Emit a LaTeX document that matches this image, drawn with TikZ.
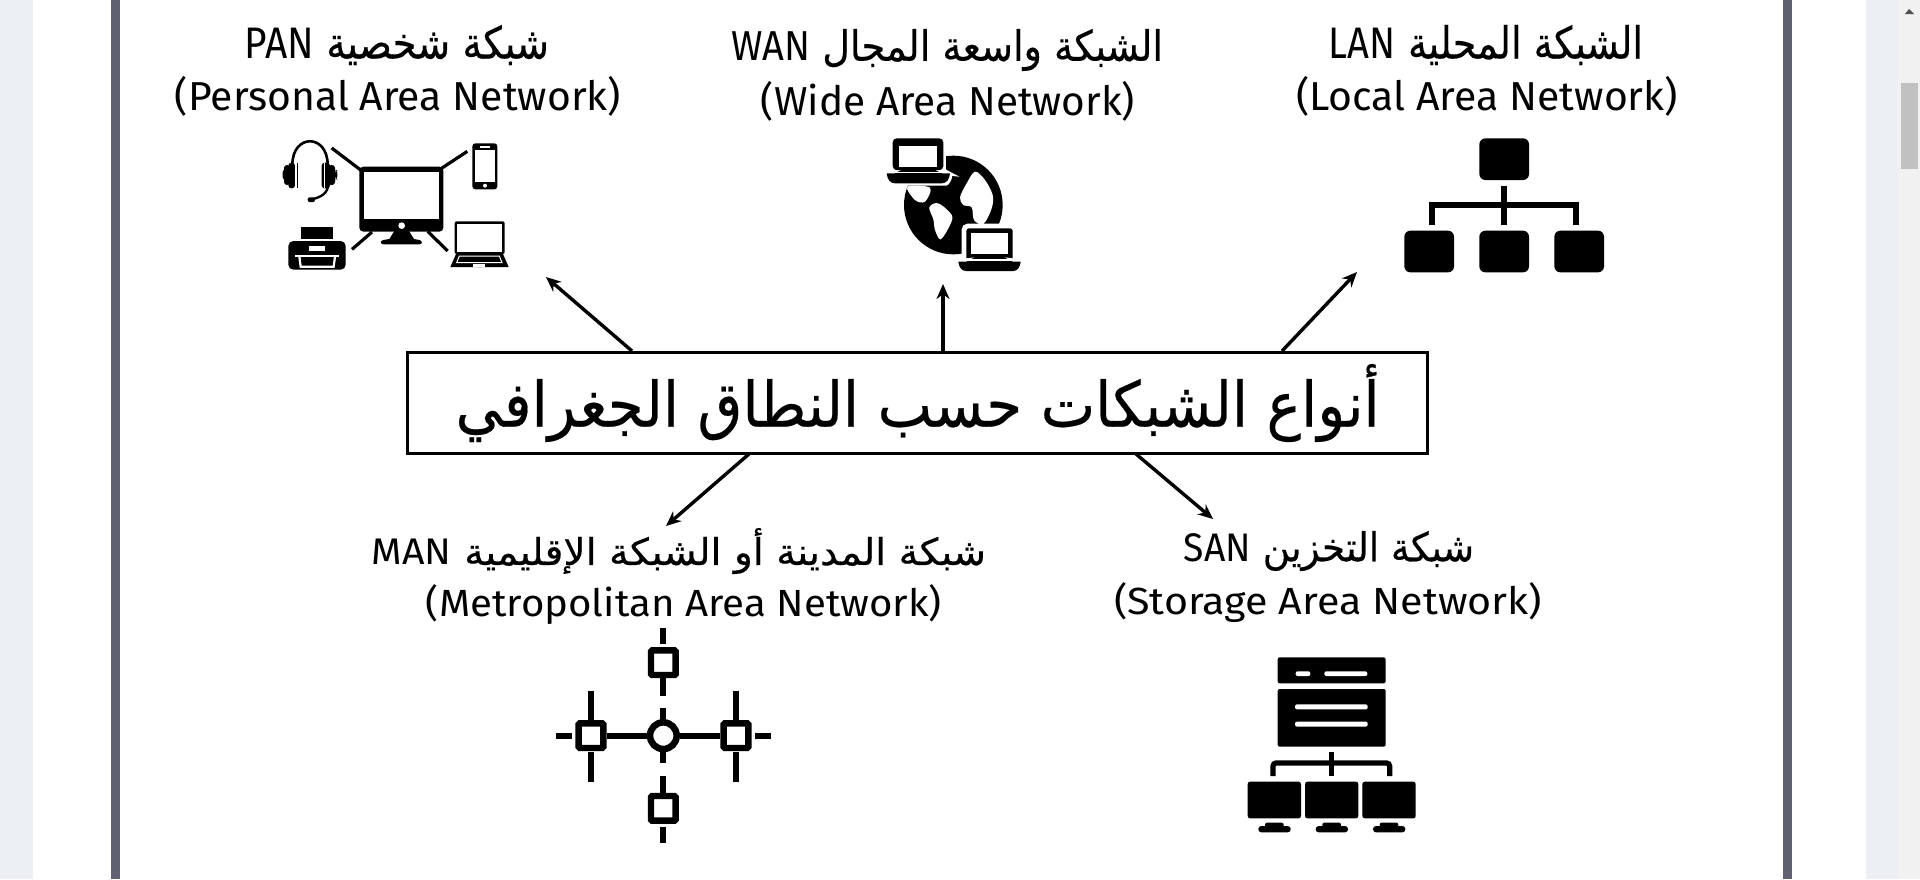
\documentclass[tikz,border=0pt]{standalone}
\usepackage{graphicx}
\usepackage{fontspec}
\usetikzlibrary{arrows.meta}
\setmainfont{Fira Sans}
\newfontfamily\arabicfont[Script=Arabic,FakeBold=0.35]{DejaVu Sans}
\TeXXeTstate=1
\newcommand{\lbl}[3]{\resizebox*{#1pt}{#2pt}{#3}}
\newcommand{\artext}[2]{\arabicfont\beginR #1\ifx&#2&\else\ \beginL{\rmfamily #2}\endL\fi\endR}
\tikzset{
  conn/.style={line width=1.7pt,-{Stealth[length=7.5pt,width=6.5pt]}},
  txt/.style={inner sep=0pt,outer sep=0pt,text=black},
  zoomed/.style={x=0.16667pt,y=-0.16667pt},
  thick3/.style={line width=3pt,draw=black},
  hole/.style={fill=white,draw=none},
  ink/.style={fill=black,draw=none},
  page/.style={fill=pagebg,draw=none},
  bar/.style={fill=barcol,draw=none},
}
\definecolor{pagebg}{HTML}{ECF0F5}
\definecolor{barcol}{HTML}{5F6070}
\definecolor{sbbg}{HTML}{F1F1F1}
\definecolor{thumb}{HTML}{C1C1C1}
\definecolor{sbarrow}{HTML}{505050}
\begin{document}
\begin{tikzpicture}[x=0.5pt,y=-0.5pt]
\useasboundingbox (0,0) rectangle (1920,879);
\fill[white] (0,0) rectangle (1920,879);
\fill[page] (0,0) rectangle (33,879);
\fill[page] (1866,0) rectangle (1898,879);
\fill[sbbg] (1898,0) rectangle (1920,879);
\fill[thumb] (1901,83) rectangle (1918,169);
\fill[sbarrow] (1905,14) -- (1909,9) -- (1914,14) -- cycle;
\fill[bar] (110.5,0) rectangle (120,879);
\fill[bar] (1782.5,0) rectangle (1792,879);

% Title
\node[draw=black,line width=1.7pt,minimum width=510pt,minimum height=50.5pt,inner sep=0pt] (title) at (917.5,403)
  {\raisebox{-2pt}{\lbl{462}{39}{\artext{أنواع الشبكات حسب النطاق الجغرافي}{}}}};

% Labels
\node[txt] (panA) at (397,45) {\lbl{152}{20}{\artext{شبكة شخصية}{PAN}}};
\node[txt] (panB) at (398,96) {\lbl{223}{20}{(Personal Area Network)}};
\node[txt] (wanA) at (947,50) {\lbl{216}{21}{\artext{الشبكة واسعة المجال}{WAN}}};
\node[txt] (wanB) at (948,101) {\lbl{187}{20}{(Wide Area Network)}};
\node[txt] (lanA) at (1486,45) {\lbl{157}{20}{\artext{الشبكة المحلية}{LAN}}};
\node[txt] (lanB) at (1487,96) {\lbl{191}{20}{(Local Area Network)}};
\node[txt] (manA) at (679,551) {\lbl{307}{23}{\artext{شبكة المدينة أو الشبكة الإقليمية}{MAN}}};
\node[txt] (manB) at (684,605) {\lbl{258}{20}{(Metropolitan Area Network)}};
\node[txt] (sanA) at (1329,551) {\lbl{145}{20}{\artext{شبكة التخزين}{SAN}}};
\node[txt] (sanB) at (1328,603) {\lbl{214}{20}{(Storage Area Network)}};

% Arrows
\coordinate (sPan) at (632,351);
\coordinate (ePan) at (546,277);
\coordinate (sWan) at (943,351);
\coordinate (eWan) at (943,284);
\coordinate (sLan) at (1282,351);
\coordinate (eLan) at (1357,272);
\coordinate (sMan) at (749,454);
\coordinate (eMan) at (666,526);
\coordinate (sSan) at (1136,454);
\coordinate (eSan) at (1213,519);
\draw[conn] (sPan) -- (ePan);
\draw[conn] (sWan) -- (eWan);
\draw[conn] (sLan) -- (eLan);
\draw[conn] (sMan) -- (eMan);
\draw[conn] (sSan) -- (eSan);

% PAN icon
\begin{scope}[shift={(260,120)},zoomed]
  % headset
  \draw[line width=1.3pt] (97,135) .. controls (97,40) and (203,40) .. (203,135);
  \fill[ink,rounded corners=1.5pt] (85,128) rectangle (105,205);
  \fill[ink,rounded corners=1.5pt] (68,148) rectangle (85,180);
  \fill[ink,rounded corners=1.5pt] (72,135) rectangle (90,195);
  \fill[hole] (105,130) rectangle (111,203);
  \fill[ink] (111,128) rectangle (114,205);
  \fill[ink,rounded corners=1.5pt] (185,128) rectangle (210,205);
  \fill[ink,rounded corners=1.5pt] (205,135) rectangle (225,195);
  \fill[ink,rounded corners=1.5pt] (225,150) rectangle (232,178);
  \fill[hole] (191,130) rectangle (196,203);
  \draw[line width=1.2pt] (205,190) .. controls (205,222) and (180,232) .. (155,238);
  \fill[ink,rounded corners=1pt] (143,232) rectangle (165,246);
  % links
  \draw[thick3,line width=1.6pt] (215,84) -- (302,150);
  \draw[thick3,line width=1.6pt] (622,94) -- (543,146);
  \draw[thick3,line width=1.6pt] (336,336) -- (276,388);
  \draw[thick3,line width=1.6pt] (503,334) -- (563,393);
  % monitor
  \fill[ink,rounded corners=2pt] (298,140) rectangle (550,335);
  \fill[hole] (313,155) rectangle (537,296);
  \fill[hole] (425,317) circle (10);
  \fill[ink] (405,330) -- (445,330) -- (462,357) -- (478,360) .. controls (488,362) and (488,372) .. (478,373)
     -- (370,373) .. controls (360,372) and (360,362) .. (370,360) -- (388,357) -- cycle;
  % phone
  \fill[ink,rounded corners=1.5pt] (637,70) rectangle (712,208);
  \fill[hole] (645,90) rectangle (705,186);
  \fill[hole] (660,78) rectangle (690,83);
  \fill[hole] (675,197) circle (6);
  % laptop
  \fill[ink,rounded corners=1pt] (584,304) rectangle (734,402);
  \fill[hole] (592,312) rectangle (727,396);
  \fill[ink] (588,402) -- (729,402) -- (746,441) -- (571,441) -- cycle;
  \draw[white,line width=0.5pt] (598,408) -- (718,408) -- (726,428) -- (590,428) -- cycle;
  \fill[hole] (640,432) rectangle (675,441);
  % printer
  \fill[ink] (123,320) rectangle (220,358);
  \fill[ink,rounded corners=2.5pt] (85,363) rectangle (257,449);
  \fill[hole] (148,377) rectangle (195,393);
  \draw[white,line width=1.1pt] (105,408) -- (236,408);
  \draw[white,line width=1.1pt] (118,410) -- (122,440) -- (221,440) -- (225,410);
\end{scope}

% WAN icon
\begin{scope}[shift={(870,120)},zoomed]
  \fill[ink] (250,255) circle (148);
  \fill[hole] plot[smooth cycle,tension=.55] coordinates {(315,155) (345,180) (368,225) (365,265) (340,312) (312,300) (305,262) (280,255) (270,232) (290,190)};
  \fill[hole] plot[smooth cycle,tension=.55] coordinates {(112,200) (180,203) (165,245) (135,240)};
  \fill[hole] plot[smooth cycle,tension=.55] coordinates {(178,262) (205,250) (245,285) (240,315) (212,358) (195,330) (190,298)};
  % laptop 1
  \draw[white,line width=2.4pt,rounded corners=2pt,fill=black] (68,55) -- (220,55) -- (220,158) -- (240,160) .. controls (238,178) and (230,190) .. (215,190) -- (75,190) .. controls (60,190) and (52,178) .. (50,160) -- (68,158) -- cycle;
  \fill[ink] (50,160) -- (240,160) .. controls (238,178) and (230,190) .. (215,190) -- (75,190) .. controls (60,190) and (52,178) .. (50,160) -- cycle;
  \fill[ink,rounded corners=2pt] (68,55) rectangle (220,150);
  \fill[hole] (88,78) rectangle (200,140);
  \draw[white,line width=.6pt] (50,158) -- (240,158);
  % laptop 2
  \draw[white,line width=2.4pt,rounded corners=2pt,fill=black] (282,318) -- (435,318) -- (435,423) -- (452,425) .. controls (450,442) and (442,453) .. (430,453) -- (288,453) .. controls (275,453) and (267,442) .. (265,425) -- (282,423) -- cycle;
  \fill[ink] (265,425) -- (452,425) .. controls (450,442) and (442,453) .. (430,453) -- (288,453) .. controls (275,453) and (267,442) .. (265,425) -- cycle;
  \fill[hole] (303,340) rectangle (415,402);
  \draw[white,line width=.6pt] (265,420) -- (452,420);
\end{scope}

% LAN icon
\begin{scope}[shift={(1390,120)},zoomed]
  \fill[ink,rounded corners=3pt] (268,55) rectangle (417,180);
  \fill[ink,rounded corners=3pt] (43,332) rectangle (192,457);
  \fill[ink,rounded corners=3pt] (268,332) rectangle (417,457);
  \fill[ink,rounded corners=3pt] (493,332) rectangle (642,457);
  \draw[thick3] (343,198) -- (343,315);
  \draw[thick3] (127,315) -- (127,254) -- (558,254) -- (558,315);
\end{scope}

% MAN icon
\begin{scope}[shift={(540,620)},zoomed]
  \draw[thick3,line width=3.3pt] (370,347) circle (40);
  \foreach \sx/\sy in {370/128,153/347,588/347,370/565}
    \draw[thick3,line width=3.2pt,rounded corners=0.6pt] (\sx-37,\sy-37) rectangle (\sx+37,\sy+37);
  \foreach \ya/\yb in {25/72,175/228,265/300,395/430,467/520,620/668}
    \draw[thick3] (370,\ya) -- (370,\yb);
  \foreach \xa/\xb in {48/97,200/322,420/540,645/692}
    \draw[thick3] (\xa,347) -- (\xb,347);
  \foreach \xc in {153,588} {
    \draw[thick3] (\xc,212) -- (\xc,300);
    \draw[thick3] (\xc,395) -- (\xc,487);
  }
\end{scope}

% SAN icon
\begin{scope}[shift={(1230,640)},zoomed]
  \fill[ink,rounded corners=1pt] (143,52) rectangle (467,130);
  \fill[hole,rounded corners=1pt] (197,94) rectangle (241,108);
  \fill[hole,rounded corners=1pt] (283,94) rectangle (412,108);
  \fill[ink,rounded corners=1pt] (143,147) rectangle (467,320);
  \fill[hole,rounded corners=1pt] (195,193) rectangle (413,208);
  \fill[hole,rounded corners=1pt] (195,245) rectangle (413,260);
  \draw[thick3,line width=2.6pt] (305,335) -- (305,408);
  \draw[thick3,line width=2.6pt,rounded corners=1.5pt] (129,408) -- (129,369) -- (479,369) -- (479,408);
  \foreach \xa/\xb in {53/213,225/385,397/557} {
    \fill[ink,rounded corners=1.2pt] (\xa,425) rectangle (\xb,535);
    \fill[ink,rounded corners=1.5pt] (\xa+32,558) rectangle (\xa+129,577);
    \fill[ink,rounded corners=1pt] (\xa+52,548) rectangle (\xa+108,562);
  }
\end{scope}
\end{tikzpicture}
\end{document}
